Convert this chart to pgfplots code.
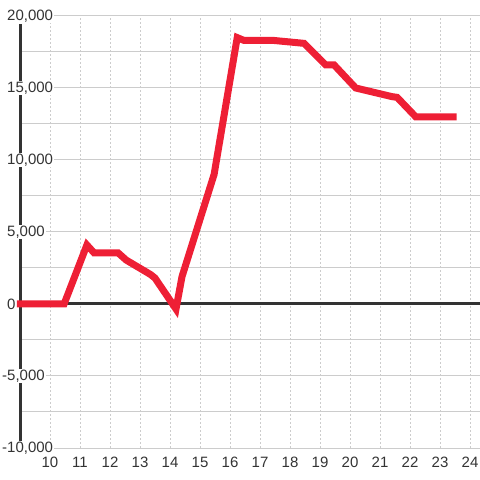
\documentclass[border=0pt]{standalone}
\usepackage{fontspec}
\setmainfont{Liberation Sans}
\usepackage{pgfplots}
\pgfplotsset{compat=1.18}
\definecolor{tickgray}{HTML}{333333}
\definecolor{gridgray}{HTML}{CCCCCC}
\definecolor{linered}{HTML}{EE1F35}
\begin{document}
\begin{tikzpicture}
\path[use as bounding box] (0,0) rectangle (480bp,480bp);
\begin{axis}[
  at={(20bp,32bp)}, anchor=south west,
  scale only axis, width=460bp, height=432bp,
  xmin=9, xmax=24.333, ymin=-10000, ymax=20000,
  clip=false,
  axis lines=left,
  x axis line style={draw=none},
  y axis line style={draw=tickgray, line width=3bp, -, shorten >=8bp},
  xtick={10,...,24},
  ytick={-10000,-5000,0,5000,10000,15000,20000},
  yticklabels={{\llap{-}10,000},{\llap{-}5,000},{0},{5,000},{10,000},{15,000},{20,000}},
  scaled y ticks=false,
  minor y tick num=1,
  major tick length=0pt, minor tick length=0pt,
  ymajorgrids, yminorgrids, xmajorgrids,
  y grid style={draw=gridgray, line width=1bp},
  x grid style={draw=gridgray, line width=0.8bp, dash pattern=on 2bp off 2bp},
  /pgf/number format/assume math mode=true,
  tick label style={font=\fontsize{15bp}{18bp}\selectfont, text=tickgray},
  yticklabel style={anchor=west, xshift=-14bp, fill=white, inner xsep=1bp, inner ysep=1bp},
  xticklabel style={anchor=north, inner sep=0pt, yshift=-9bp},
]
\addplot[draw=tickgray, line width=3bp] coordinates {(9,0) (24.333,0)};
\addplot[draw=linered, line width=7bp, line cap=butt] coordinates {
(8.9,0) (10.47,0) (11.23,4100) (11.47,3550) (12.27,3550) (12.54,3050)
(13.35,2050) (13.5,1800) (14.2,-350) (14.4,1900) (15.47,9000) (16.24,18500)
(16.47,18300) (17.47,18300) (18.47,18100) (19.19,16600) (19.47,16600)
(20.19,15000) (21.4,14400) (21.57,14350) (22.19,13000) (23.55,13000)
};
\end{axis}
\end{tikzpicture}
\end{document}
